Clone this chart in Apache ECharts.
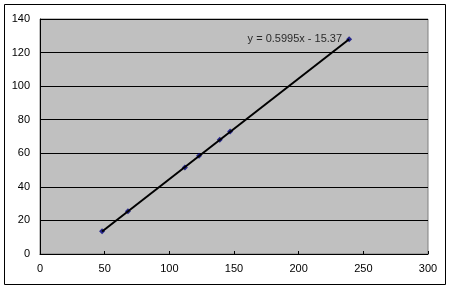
<!DOCTYPE html>
<html><head><meta charset="utf-8">
<script src="https://cdn.jsdelivr.net/npm/echarts@6/dist/echarts.min.js"></script>
<style>html,body{margin:0;padding:0;background:#fff}#c{width:450px;height:289px}</style>
</head><body><div id="c"></div>
<script>
const xValues = [48, 68, 112, 123, 139, 147, 239];
const yValues = [13.5, 25.5, 51.5, 58.5, 68, 73, 128];
const trendSlope = 0.5995;
const trendIntercept = -15.37;
const trendLabel = 'y = 0.5995x - 15.37';
const xTicks = [0, 50, 100, 150, 200, 250, 300];
const yTicks = [0, 20, 40, 60, 80, 100, 120, 140];

const pts = xValues.map((x, i) => [x, yValues[i]]);
const xmin = Math.min(...xValues), xmax = Math.max(...xValues);
const trend = [[xmin, trendSlope * xmin + trendIntercept], [xmax, trendSlope * xmax + trendIntercept]];

const chart = echarts.init(document.getElementById('c'));
const font = '"Liberation Sans", "DejaVu Sans", sans-serif';
chart.setOption({
  animation: false,
  textStyle: { fontFamily: font },
  graphic: [{
    type: 'rect', shape: { x: 4.5, y: 4.5, width: 441, height: 280 },
    style: { fill: 'none', stroke: '#000', lineWidth: 1 }, z: 0
  }],
  grid: { left: 40, top: 19, width: 388, height: 235, show: true,
    backgroundColor: '#c0c0c0', borderColor: '#808080', borderWidth: 1 },
  xAxis: { type: 'value', min: 0, max: 300, interval: 50,
    axisLine: { show: true, onZero: false, lineStyle: { color: '#000', width: 1 } },
    axisTick: { show: true, inside: true, length: 3, lineStyle: { color: '#000' } },
    splitLine: { show: false },
    axisLabel: { color: '#000', fontSize: 11, margin: 9, fontFamily: font,
      formatter: v => xTicks.includes(v) ? String(v) : '' } },
  yAxis: { type: 'value', min: 0, max: 140, interval: 20,
    axisLine: { show: true, onZero: false, lineStyle: { color: '#000', width: 1 } },
    axisTick: { show: false },
    splitLine: { show: true, lineStyle: { color: '#000', width: 1 } },
    axisLabel: { color: '#000', fontSize: 11, margin: 10, fontFamily: font,
      formatter: v => yTicks.includes(v) ? String(v) : '' } },
  series: [
    { type: 'scatter', data: pts, symbol: 'diamond', symbolSize: 6,
      itemStyle: { color: '#000080' }, z: 2 },
    { type: 'line', data: trend, symbol: 'none', lineStyle: { color: '#000', width: 2 }, z: 3 },
    { type: 'scatter', data: [[xmax, 128]], symbolSize: 0, silent: true, z: 4,
      label: { show: true, position: 'left', distance: 7, formatter: trendLabel,
        color: '#000', fontSize: 11, fontFamily: font } }
  ]
});
</script></body></html>
